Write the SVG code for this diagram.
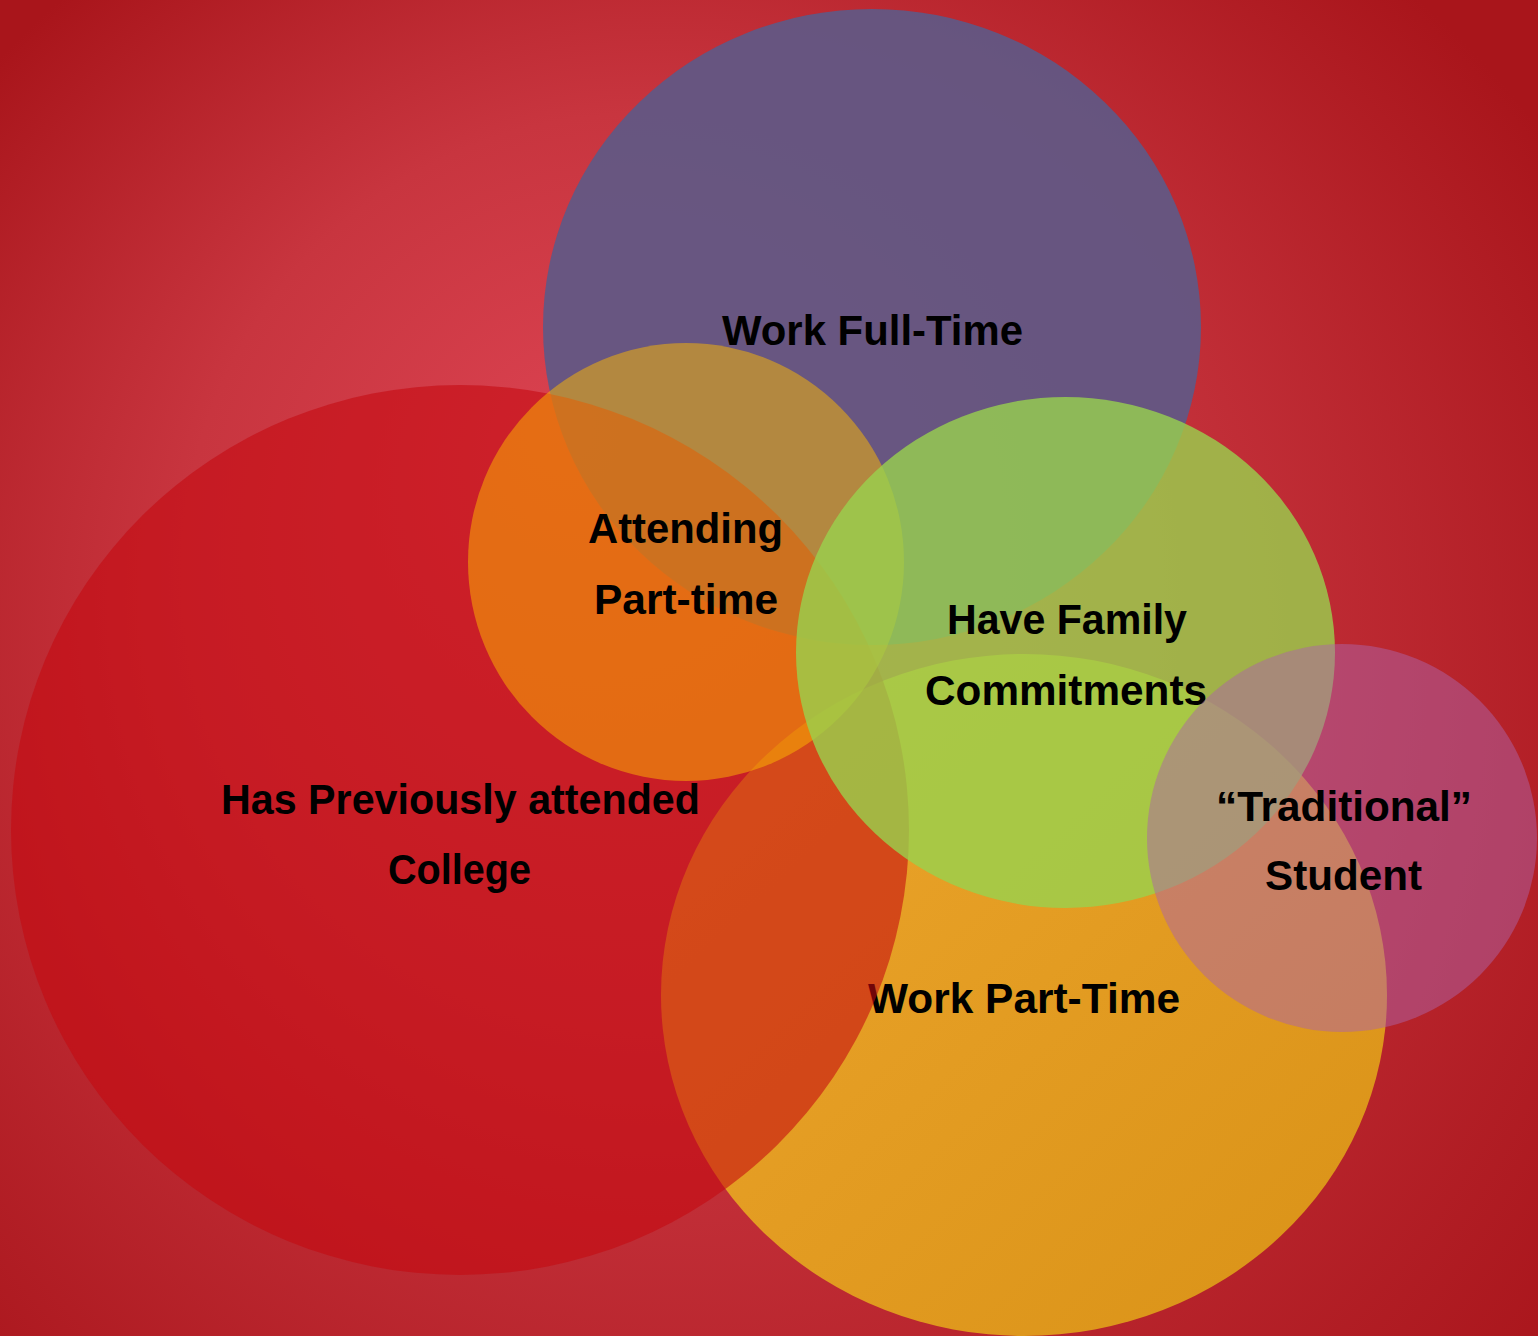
<svg xmlns="http://www.w3.org/2000/svg" width="1538" height="1336" viewBox="0 0 1538 1336">
  <defs>
    <radialGradient id="bg" gradientUnits="userSpaceOnUse" cx="740" cy="760" r="1020" fx="560" fy="420">
      <stop offset="0" stop-color="#D9414F"/>
      <stop offset="0.45" stop-color="#C8353F"/>
      <stop offset="1" stop-color="#A9151B"/>
    </radialGradient>
    <linearGradient id="yel" x1="0" y1="0" x2="1" y2="1">
      <stop offset="0" stop-color="#EDA62D"/>
      <stop offset="1" stop-color="#D99217"/>
    </linearGradient>
    <style>
      .lbl { font-family: "Liberation Sans", Arial, sans-serif; font-weight: bold; font-size: 42px; fill: #000000; text-anchor: middle; }
      .purple { fill: #605885; fill-opacity: 0.93; }
      .yellow { fill: url(#yel); }
      .red { fill: #C4080F; fill-opacity: 0.58; }
      .orange { fill: #FEBA00; fill-opacity: 0.5; }
      .green { fill: #99D24D; fill-opacity: 0.8; }
      .pink { fill: #AE63A8; fill-opacity: 0.5; }
    </style>
  </defs>

  <rect x="0" y="0" width="1538" height="1336" fill="url(#bg)"/>

  <g id="work-full-time">
    <ellipse class="purple" cx="872" cy="327" rx="329" ry="318"/>
    <text class="lbl" x="872.5" y="345" textLength="301" lengthAdjust="spacingAndGlyphs">Work Full-Time</text>
  </g>

  <g id="work-part-time">
    <ellipse class="yellow" cx="1024" cy="995" rx="363" ry="341"/>
    <text class="lbl" x="1024" y="1013" textLength="312" lengthAdjust="spacingAndGlyphs">Work Part-Time</text>
  </g>

  <g id="has-previously-attended-college">
    <ellipse class="red" cx="460" cy="830" rx="449" ry="445"/>
    <text class="lbl" x="460.5" y="814" textLength="479" lengthAdjust="spacingAndGlyphs">Has Previously attended</text>
    <text class="lbl" x="459.5" y="884" textLength="143" lengthAdjust="spacingAndGlyphs">College</text>
  </g>

  <g id="attending-part-time">
    <ellipse class="orange" cx="686" cy="562" rx="218" ry="219"/>
    <text class="lbl" x="685.5" y="543" textLength="195" lengthAdjust="spacingAndGlyphs">Attending</text>
    <text class="lbl" x="686" y="614" textLength="184" lengthAdjust="spacingAndGlyphs">Part-time</text>
  </g>

  <g id="have-family-commitments">
    <ellipse class="green" cx="1065.5" cy="652.5" rx="269.5" ry="255.5"/>
    <text class="lbl" x="1067" y="634" textLength="240" lengthAdjust="spacingAndGlyphs">Have Family</text>
    <text class="lbl" x="1066" y="705" textLength="282" lengthAdjust="spacingAndGlyphs">Commitments</text>
  </g>

  <g id="traditional-student">
    <ellipse class="pink" cx="1342" cy="838" rx="195" ry="194"/>
    <text class="lbl" x="1344" y="821" textLength="256" lengthAdjust="spacingAndGlyphs">“Traditional”</text>
    <text class="lbl" x="1343.5" y="890" textLength="157" lengthAdjust="spacingAndGlyphs">Student</text>
  </g>

  <g id="connectors"/>
</svg>
